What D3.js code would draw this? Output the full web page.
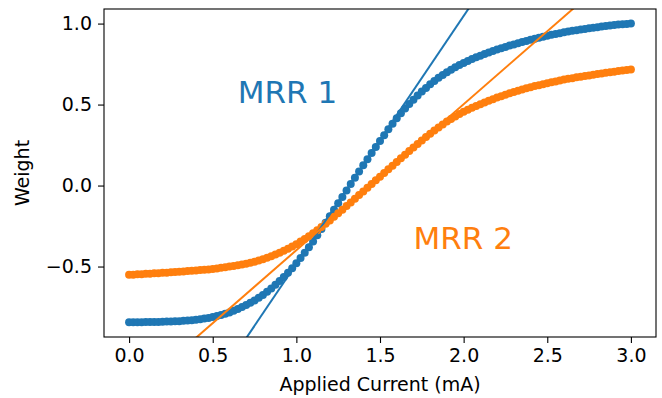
<!DOCTYPE html>
<html><head><meta charset="utf-8">
<script src="https://cdn.jsdelivr.net/npm/d3@7"></script>
<style>body{margin:0;background:#fff}svg{display:block}text{font-family:"DejaVu Sans",sans-serif}</style>
</head><body><svg id="c" width="662" height="398"></svg>
<script>
const current = [0.000,0.025,0.050,0.075,0.100,0.125,0.150,0.175,0.200,0.225,0.250,0.275,0.300,0.325,0.350,0.375,0.400,0.425,0.450,0.475,0.500,0.525,0.550,0.575,0.600,0.625,0.650,0.675,0.700,0.725,0.750,0.775,0.800,0.825,0.850,0.875,0.900,0.925,0.950,0.975,1.000,1.025,1.050,1.075,1.100,1.125,1.150,1.175,1.200,1.225,1.250,1.275,1.300,1.325,1.350,1.375,1.400,1.425,1.450,1.475,1.500,1.525,1.550,1.575,1.600,1.625,1.650,1.675,1.700,1.725,1.750,1.775,1.800,1.825,1.850,1.875,1.900,1.925,1.950,1.975,2.000,2.025,2.050,2.075,2.100,2.125,2.150,2.175,2.200,2.225,2.250,2.275,2.300,2.325,2.350,2.375,2.400,2.425,2.450,2.475,2.500,2.525,2.550,2.575,2.600,2.625,2.650,2.675,2.700,2.725,2.750,2.775,2.800,2.825,2.850,2.875,2.900,2.925,2.950,2.975,3.000];
const mrr1 = [-0.844,-0.844,-0.844,-0.844,-0.843,-0.843,-0.842,-0.842,-0.841,-0.840,-0.839,-0.838,-0.837,-0.835,-0.833,-0.831,-0.828,-0.825,-0.821,-0.817,-0.812,-0.806,-0.799,-0.791,-0.783,-0.773,-0.762,-0.750,-0.738,-0.724,-0.709,-0.692,-0.675,-0.656,-0.635,-0.613,-0.590,-0.565,-0.538,-0.510,-0.480,-0.448,-0.415,-0.381,-0.345,-0.307,-0.268,-0.229,-0.190,-0.150,-0.110,-0.070,-0.030,0.009,0.048,0.087,0.125,0.163,0.201,0.238,0.275,0.311,0.347,0.382,0.415,0.446,0.476,0.504,0.530,0.556,0.580,0.603,0.625,0.645,0.665,0.683,0.700,0.715,0.730,0.744,0.757,0.769,0.781,0.792,0.802,0.812,0.822,0.831,0.840,0.848,0.856,0.864,0.871,0.879,0.886,0.893,0.900,0.907,0.913,0.919,0.925,0.931,0.936,0.941,0.946,0.951,0.955,0.959,0.963,0.967,0.971,0.975,0.978,0.982,0.985,0.988,0.991,0.994,0.996,0.998,1.000];
const mrr2 = [-0.551,-0.550,-0.548,-0.547,-0.545,-0.544,-0.542,-0.541,-0.539,-0.538,-0.536,-0.534,-0.532,-0.530,-0.528,-0.526,-0.524,-0.522,-0.520,-0.518,-0.515,-0.512,-0.508,-0.504,-0.500,-0.496,-0.492,-0.487,-0.482,-0.476,-0.470,-0.463,-0.455,-0.446,-0.437,-0.426,-0.415,-0.403,-0.390,-0.376,-0.362,-0.346,-0.330,-0.313,-0.295,-0.276,-0.256,-0.236,-0.215,-0.193,-0.171,-0.149,-0.126,-0.104,-0.081,-0.059,-0.036,-0.014,0.009,0.032,0.055,0.078,0.100,0.123,0.145,0.168,0.190,0.213,0.235,0.257,0.278,0.299,0.320,0.340,0.359,0.377,0.395,0.411,0.427,0.441,0.455,0.468,0.480,0.491,0.502,0.513,0.523,0.533,0.543,0.552,0.561,0.570,0.578,0.586,0.593,0.600,0.607,0.614,0.620,0.626,0.632,0.638,0.643,0.649,0.654,0.659,0.663,0.668,0.672,0.676,0.680,0.684,0.688,0.692,0.696,0.700,0.703,0.707,0.710,0.713,0.716];
const fitSlope = [1.53, 0.901];
const fitIntercept = [-2.013, -1.300];
const seriesNames = ["MRR 1", "MRR 2"];
const labelPos = [[0.65, 0.51], [1.70, -0.39]];
const xTicks = [0.0,0.5,1.0,1.5,2.0,2.5,3.0];
const yTicks = [-0.5,0.0,0.5,1.0];
const colors = ["#1f77b4", "#ff7f0e"];

const L=104,R=656,T=9,B=337;
const svg=d3.select("#c");
const x=d3.scaleLinear().domain([-0.15,3.15]).range([L,R]);
const y=d3.scaleLinear().domain([-0.935,1.09]).range([B,T]);
const fmt=d=>d.toFixed(1).replace("-","\u2212");

svg.append("clipPath").attr("id","clip").append("rect").attr("x",L).attr("y",T).attr("width",R-L).attr("height",B-T);
const plot=svg.append("g").attr("clip-path","url(#clip)");

[mrr1,mrr2].forEach((vals,i)=>{
  plot.append("g").selectAll("circle").data(current).join("circle")
    .attr("cx",d=>x(d)).attr("cy",(d,j)=>y(vals[j])).attr("r",4).attr("fill",colors[i]);
});
fitSlope.forEach((m,i)=>{
  const xs=x.domain();
  plot.append("line").attr("x1",x(xs[0])).attr("y1",y(m*xs[0]+fitIntercept[i]))
    .attr("x2",x(xs[1])).attr("y2",y(m*xs[1]+fitIntercept[i]))
    .attr("stroke",colors[i]).attr("stroke-width",2);
});
seriesNames.forEach((n,i)=>{
  svg.append("text").attr("x",x(labelPos[i][0])).attr("y",y(labelPos[i][1]))
    .attr("fill",colors[i]).attr("font-size",31).text(n);
});

const xa=svg.append("g").attr("transform",`translate(0,${B})`)
  .call(d3.axisBottom(x).tickValues(xTicks).tickFormat(fmt).tickSize(6).tickPadding(6));
const ya=svg.append("g").attr("transform",`translate(${L},0)`)
  .call(d3.axisLeft(y).tickValues(yTicks).tickFormat(fmt).tickSize(6).tickPadding(6));
[xa,ya].forEach(a=>{a.select(".domain").remove();a.selectAll("text").attr("font-size",19).attr("font-family","DejaVu Sans").attr("fill","#000");a.selectAll("line").attr("stroke","#000").attr("stroke-width",1.1);});
svg.append("rect").attr("x",L).attr("y",T).attr("width",R-L).attr("height",B-T).attr("fill","none").attr("stroke","#000").attr("stroke-width",1.1);
svg.append("text").attr("x",(L+R)/2).attr("y",391).attr("text-anchor","middle").attr("font-size",19).text("Applied Current (mA)");
svg.append("text").attr("transform",`translate(29,${(T+B)/2}) rotate(-90)`).attr("text-anchor","middle").attr("font-size",19).text("Weight");
</script></body></html>
